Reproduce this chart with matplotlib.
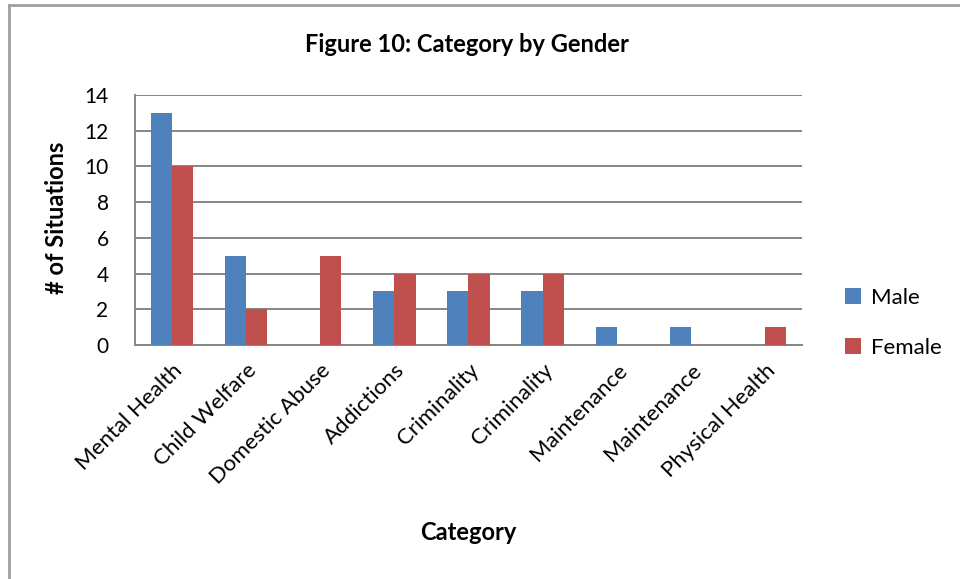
import matplotlib
matplotlib.use("Agg")
import matplotlib.pyplot as plt
from matplotlib.lines import Line2D
from matplotlib.patches import Patch
import numpy as np

categories = ["Mental Health", "Child Welfare", "Domestic Abuse", "Addictions",
              "Criminality", "Criminality", "Maintenance", "Maintenance",
              "Physical Health"]
male = [13, 5, 0, 3, 3, 3, 1, 1, 0]
female = [10, 2, 5, 4, 4, 4, 0, 0, 1]
y_ticks = [0, 2, 4, 6, 8, 10, 12, 14]

plt.rcParams["font.family"] = ["Lato", "DejaVu Sans"]

BLUE = "#4F81BD"
RED = "#C0504D"
GRID = "#868686"

fig = plt.figure(figsize=(9.6, 5.79), dpi=100)
ax = fig.add_axes([135 / 960, 1 - 345 / 579, 667 / 960, 250 / 579])

x = np.arange(len(categories))
w = 1 / 3.5
ax.bar(x - w / 2, male, width=w, color=BLUE, label="Male", zorder=3)
ax.bar(x + w / 2, female, width=w, color=RED, label="Female", zorder=3)

ax.set_xlim(-0.5, len(categories) - 0.5)
ax.set_ylim(0, 14)
ax.set_yticks(y_ticks)
ax.set_yticklabels([str(v) for v in y_ticks], fontsize=15)
ax.yaxis.grid(True, color=GRID, linewidth=1.4, zorder=0)
ax.set_axisbelow(True)

ax.set_xticks(x)
ax.set_xticklabels(categories, rotation=45, ha="right",
                   rotation_mode="anchor", fontsize=16)
ax.tick_params(axis="both", length=0)
ax.tick_params(axis="x", pad=11)
ax.tick_params(axis="y", pad=19)

for side in ("top", "right"):
    ax.spines[side].set_visible(False)
for side in ("left", "bottom"):
    ax.spines[side].set_color(GRID)
    ax.spines[side].set_linewidth(1.4)

fig.text(57 / 960, 1 - 218 / 579, "# of Situations", fontsize=17,
         fontweight="bold", rotation=90, ha="center", va="center")
fig.text(468 / 960, 1 - 532 / 579, "Category", fontsize=17,
         fontweight="bold", ha="center", va="center")
fig.text(467 / 960, 1 - 45 / 579, "Figure 10: Category by Gender",
         fontsize=17, fontweight="bold", ha="center", va="center")

handles = [Patch(facecolor=BLUE, label="Male"),
           Patch(facecolor=RED, label="Female")]
fig.legend(handles=handles, loc="center left",
           bbox_to_anchor=(825 / 960, 1 - 323 / 579), frameon=False,
           fontsize=16, handlelength=0.7, handleheight=0.7,
           handletextpad=0.45, labelspacing=1.35)

# chart frame
fig.add_artist(Line2D([9 / 960, 9 / 960], [0, 1 - 5 / 579],
                      color="#A0A0A0", linewidth=2, transform=fig.transFigure))
fig.add_artist(Line2D([9 / 960, 1], [1 - 5 / 579, 1 - 5 / 579],
                      color="#A0A0A0", linewidth=2, transform=fig.transFigure))

fig.savefig("out.png", dpi=100)
